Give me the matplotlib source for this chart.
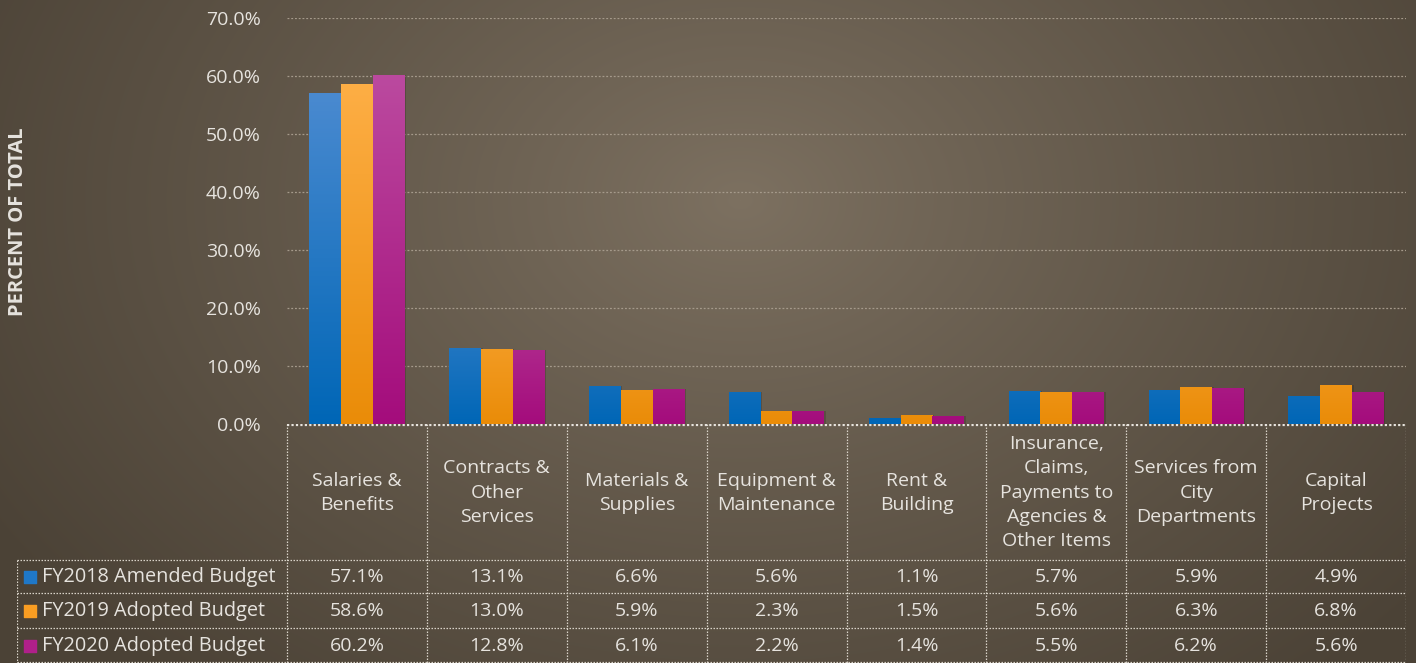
import numpy as np
import matplotlib
matplotlib.use("Agg")
import matplotlib.pyplot as plt
from matplotlib.colors import LinearSegmentedColormap

categories = ["Salaries &\nBenefits", "Contracts &\nOther\nServices", "Materials &\nSupplies",
              "Equipment &\nMaintenance", "Rent &\nBuilding",
              "Insurance,\nClaims,\nPayments to\nAgencies &\nOther Items",
              "Services from\nCity\nDepartments", "Capital\nProjects"]
series_names = ["FY2018 Amended Budget", "FY2019 Adopted Budget", "FY2020 Adopted Budget"]
fy2018 = [57.1, 13.1, 6.6, 5.6, 1.1, 5.7, 5.9, 4.9]
fy2019 = [58.6, 13.0, 5.9, 2.3, 1.5, 5.6, 6.3, 6.8]
fy2020 = [60.2, 12.8, 6.1, 2.2, 1.4, 5.5, 6.2, 5.6]
series = [fy2018, fy2019, fy2020]
yticks = [0, 10, 20, 30, 40, 50, 60, 70]

colors_top = ["#4a8ad0", "#fdae45", "#bb4a9f"]
colors_bot = ["#0066b6", "#ea8c08", "#a40c7c"]
colors_mid = ["#1f78c8", "#f99d22", "#b0208a"]

W, H = 1416, 663
fig = plt.figure(figsize=(W / 100, H / 100), dpi=100)

FONT = "Open Sans"
TXT = "#e6e3de"
FS = 14

# background radial gradient
bg = fig.add_axes([0, 0, 1, 1])
yy, xx = np.mgrid[0:H, 0:W]
cx, cy = 740, 200
d = np.sqrt(((xx - cx) / 880.0) ** 2 + ((yy - cy) / 640.0) ** 2)
d = np.clip(d, 0, 1) ** 0.9
c_in = np.array([0x7d, 0x71, 0x61]) / 255
c_out = np.array([0x4b, 0x42, 0x36]) / 255
img = c_in[None, None, :] * (1 - d[..., None]) + c_out[None, None, :] * d[..., None]
bg.imshow(img, extent=[0, W, H, 0], aspect="auto")
bg.set_axis_off()

# main axes
x0, x1 = 287, 1406
ytop, ybot = 18, 424
ax = fig.add_axes([x0 / W, (H - ybot) / H, (x1 - x0) / W, (ybot - ytop) / H])
ax.patch.set_alpha(0)
n = len(categories)
for s in ax.spines.values():
    s.set_visible(False)
ax.set_xticks([])
ax.set_yticks(yticks)
ax.set_yticklabels([f"{v:.1f}%" for v in yticks], fontsize=FS, color=TXT, family=FONT)
ax.tick_params(axis="y", length=0, pad=19)
for v in yticks[1:]:
    ax.axhline(v, color="#a59a8b", lw=0.9, ls=(0, (1.5, 1.5)), zorder=1)

bw = 0.227
x = np.arange(n)
for i, (vals, ct, cb) in enumerate(zip(series, colors_top, colors_bot)):
    pos = x + (i - 1) * bw
    ax.bar(pos + 0.012, vals, bw, color="#2a231a", alpha=0.25, zorder=2)
    bars = ax.bar(pos, vals, bw, color=colors_mid[i], zorder=3, linewidth=0)
    cmap = LinearSegmentedColormap.from_list(f"g{i}", [cb, ct])
    grad = np.linspace(0, 1, 256).reshape(-1, 1)
    for b in bars:
        bx = b.get_x()
        bwid, bh = b.get_width(), b.get_height()
        im = ax.imshow(grad, extent=[bx, bx + bwid, 0, max(bh, 30)], origin="lower",
                       cmap=cmap, aspect="auto", zorder=4, interpolation="bilinear")
        im.set_clip_path(b)
ax.set_xlim(-0.5, n - 0.5)
ax.set_ylim(0, 70)

fig.text(18 / W, (H - 222) / H, "PERCENT OF TOTAL", rotation=90, ha="center", va="center",
         fontsize=14.5, fontweight="bold", color=TXT, family=FONT)

# table axes
tl = 17
cw = (x1 - x0) / n
tx_left = -0.5 - (x0 - tl) / cw
tab = fig.add_axes([tl / W, 0, (x1 - tl) / W, (H - ybot) / H])
tab.patch.set_alpha(0)
tab.set_axis_off()
tab.set_xlim(tx_left, n - 0.5)
hdr = 135
row_b = [135, 168, 203, 238]
tab.set_ylim(238, 0)

lc = "#d8d2c8"
ls = (0, (1.2, 1.2))
tab.plot([-0.5, n - 0.5], [0.5, 0.5], color="#e8e4de", lw=1.6, ls=(0, (1, 1)), zorder=5)
for k in range(n + 1):
    tab.plot([k - 0.5, k - 0.5], [0, 238], color=lc, lw=0.9, ls=ls)
tab.plot([tx_left + 0.001, tx_left + 0.001], [hdr, 238], color=lc, lw=0.9, ls=ls)
for yb in row_b:
    tab.plot([tx_left, n - 0.5], [yb, yb], color=lc, lw=0.9, ls=ls)
tab.plot([tx_left, n - 0.5], [237.3, 237.3], color=lc, lw=0.9, ls=ls)

for k, c in enumerate(categories):
    tab.text(k, hdr / 2 + 1, c, ha="center", va="center", fontsize=FS, color=TXT,
             family=FONT, linespacing=1.45)
for r, (name, vals) in enumerate(zip(series_names, series)):
    yc = (row_b[r] + row_b[r + 1]) / 2 + 1
    for k, v in enumerate(vals):
        tab.text(k, yc, f"{v:.1f}%", ha="center", va="center", fontsize=FS, color=TXT, family=FONT)
    tab.text(tx_left + 0.18, yc, name, ha="left", va="center", fontsize=14.3, color=TXT, family=FONT)
    tab.scatter([tx_left + 0.095], [yc], marker="s", s=80, color=colors_mid[r], zorder=6)

fig.savefig("out.png", dpi=100)
